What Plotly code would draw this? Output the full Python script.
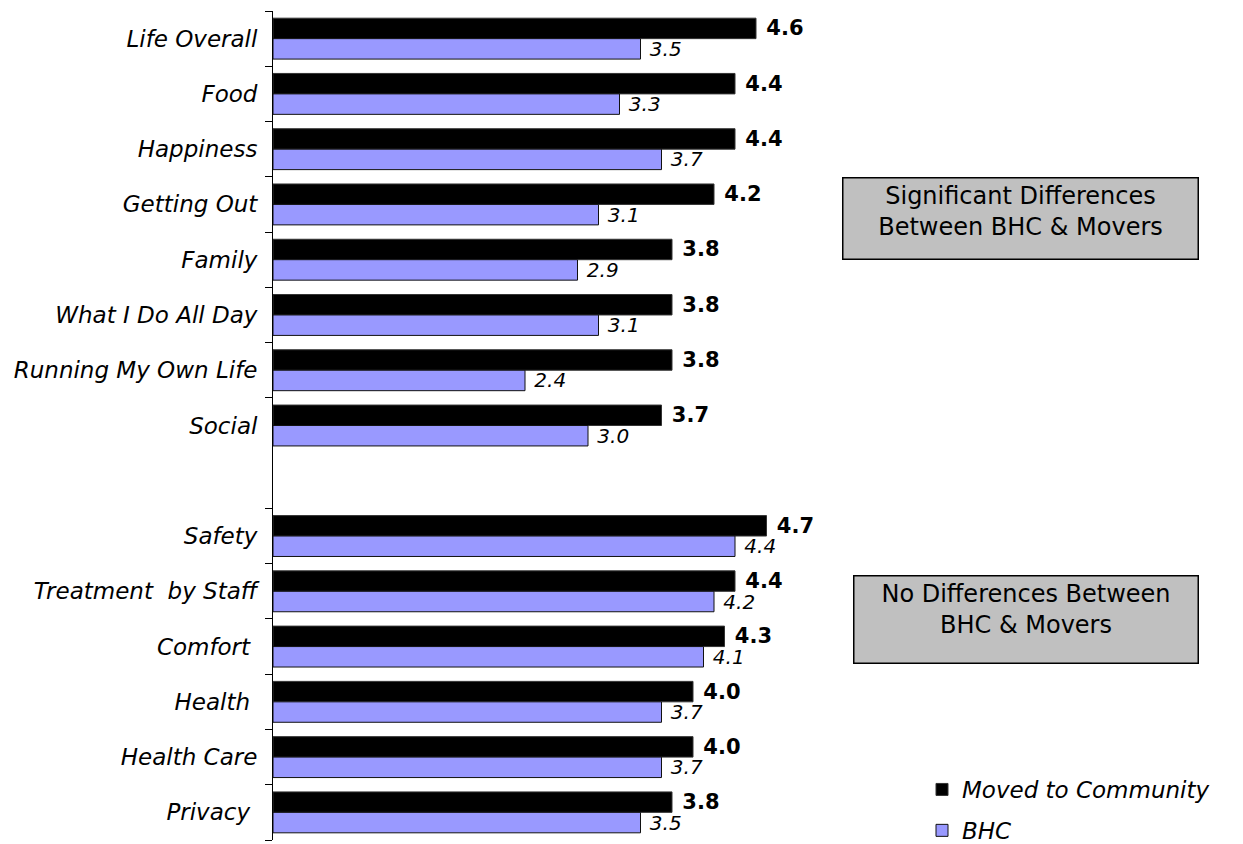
import plotly.graph_objects as go

# Satisfaction domains, grouped: significant differences first, then no differences
significant_domains = [
    "Life Overall", "Food", "Happiness", "Getting Out", "Family",
    "What I Do All Day", "Running My Own Life", "Social",
]
similar_domains = [
    "Safety", "Treatment\u00a0 by Staff", "Comfort\u00a0", "Health\u00a0",
    "Health Care", "Privacy\u00a0",
]
spacer = "gap"  # empty row separating the two groups (no tick label)

moved_significant = [4.6, 4.4, 4.4, 4.2, 3.8, 3.8, 3.8, 3.7]
bhc_significant = [3.5, 3.3, 3.7, 3.1, 2.9, 3.1, 2.4, 3.0]
moved_similar = [4.7, 4.4, 4.3, 4.0, 4.0, 3.8]
bhc_similar = [4.4, 4.2, 4.1, 3.7, 3.7, 3.5]

categories = significant_domains + [spacer] + similar_domains
labelled = significant_domains + similar_domains
moved = moved_significant + [None] + moved_similar
bhc = bhc_significant + [None] + bhc_similar

FONT = "DejaVu Sans"
W, H = 1243, 844
ML, MR, MT, MB = 273, 445, 11, 4
PW, PH = W - ML - MR, H - MT - MB


def px_x(px):
    return (px - ML) / PW


def px_y(py):
    return 1 - (py - MT) / PH


fig = go.Figure()
fig.add_trace(go.Bar(
    name="Moved to Community", y=categories, x=moved, orientation="h",
    marker=dict(color="#000000", line=dict(color="#333333", width=1)),
    texttemplate="\u00a0%{x:.1f}", textposition="outside",
    textfont=dict(family=FONT, size=21, color="#000000", weight="bold"),
    constraintext="none", cliponaxis=False, legendgroup="a",
))
fig.add_trace(go.Bar(
    name="BHC", y=categories, x=bhc, orientation="h",
    marker=dict(color="#9999FF", line=dict(color="#111111", width=1)),
    texttemplate="\u00a0%{x:.1f}", textposition="outside",
    textfont=dict(family=FONT, size=20, color="#000000", style="italic"),
    constraintext="none", cliponaxis=False, legendgroup="b",
))

box_font = dict(family=FONT, size=24, color="#000000")
boxes = [
    ("Significant Differences<br>Between BHC & Movers", 842, 1199, 177, 260),
    ("No Differences Between<br>BHC & Movers", 853, 1199, 575, 664),
]
for text, x0, x1, y0, y1 in boxes:
    bw, bp = 1.5, 3
    fig.add_annotation(
        text=text, xref="paper", yref="paper",
        x=px_x((x0 + x1) / 2), y=px_y((y0 + y1) / 2),
        xanchor="center", yanchor="middle", showarrow=False,
        width=(x1 - x0) - 2 * bp - 2 * bw, height=(y1 - y0) - 2 * bp - 2 * bw,
        valign="top", align="center", font=box_font,
        bgcolor="#C0C0C0", bordercolor="#000000", borderwidth=bw, borderpad=bp,
    )

fig.update_layout(
    width=W, height=H,
    margin=dict(l=ML, r=MR, t=MT, b=MB, pad=0, autoexpand=False),
    paper_bgcolor="white", plot_bgcolor="white",
    barmode="group", bargap=0.26, bargroupgap=0,
    font=dict(family=FONT, color="#000000"),
    xaxis=dict(range=[0, 5], visible=False, fixedrange=True),
    yaxis=dict(
        type="category", categoryorder="array", categoryarray=categories,
        tickmode="array", tickvals=labelled,
        autorange="reversed", tickson="boundaries",
        ticks="outside", ticklen=7, tickcolor="#000000", tickwidth=1,
        ticklabelstandoff=10,
        showline=True, linecolor="#000000", linewidth=1,
        showgrid=False, zeroline=False,
        tickfont=dict(family=FONT, size=23, color="#000000", style="italic"),
    ),
    legend=dict(
        x=px_x(922), y=px_y(768), xanchor="left", yanchor="top",
        font=dict(family=FONT, size=23, color="#000000", style="italic"),
        bgcolor="rgba(0,0,0,0)", traceorder="grouped", tracegroupgap=8,
        itemwidth=30,
    ),
    showlegend=True,
)

fig.write_html("out.html")
